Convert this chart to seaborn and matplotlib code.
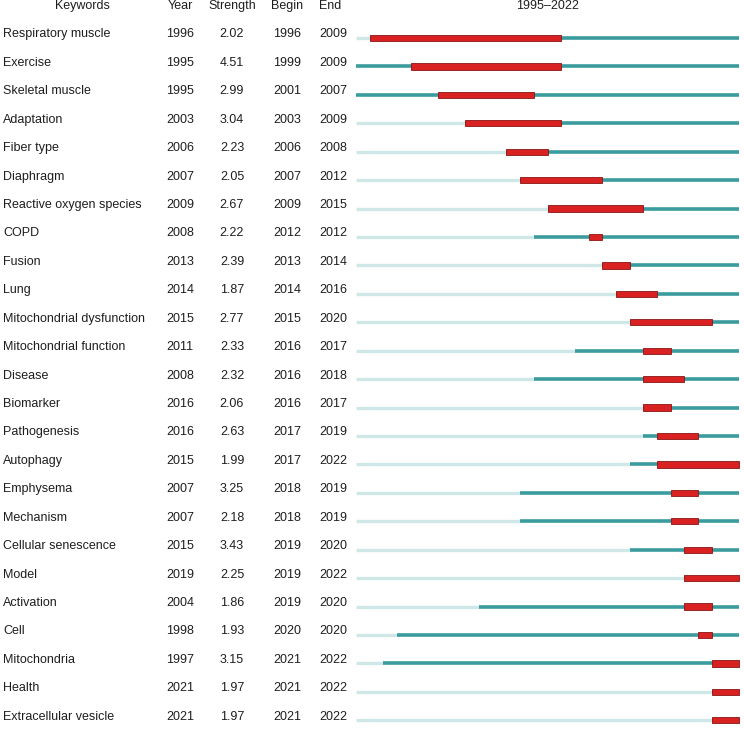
import matplotlib
matplotlib.use("Agg")
import matplotlib.pyplot as plt
import matplotlib.transforms as mtransforms
import seaborn as sns

keywords = ["Respiratory muscle", "Exercise", "Skeletal muscle", "Adaptation", "Fiber type",
            "Diaphragm", "Reactive oxygen species", "COPD", "Fusion", "Lung",
            "Mitochondrial dysfunction", "Mitochondrial function", "Disease", "Biomarker",
            "Pathogenesis", "Autophagy", "Emphysema", "Mechanism", "Cellular senescence",
            "Model", "Activation", "Cell", "Mitochondria", "Health", "Extracellular vesicle"]
years = [1996, 1995, 1995, 2003, 2006, 2007, 2009, 2008, 2013, 2014, 2015, 2011, 2008, 2016,
         2016, 2015, 2007, 2007, 2015, 2019, 2004, 1998, 1997, 2021, 2021]
strengths = [2.02, 4.51, 2.99, 3.04, 2.23, 2.05, 2.67, 2.22, 2.39, 1.87, 2.77, 2.33, 2.32, 2.06,
             2.63, 1.99, 3.25, 2.18, 3.43, 2.25, 1.86, 1.93, 3.15, 1.97, 1.97]
begins = [1996, 1999, 2001, 2003, 2006, 2007, 2009, 2012, 2013, 2014, 2015, 2016, 2016, 2016,
          2017, 2017, 2018, 2018, 2019, 2019, 2019, 2020, 2021, 2021, 2021]
ends = [2009, 2009, 2007, 2009, 2008, 2012, 2015, 2012, 2014, 2016, 2020, 2017, 2018, 2017,
        2019, 2022, 2019, 2019, 2020, 2022, 2020, 2020, 2022, 2022, 2022]
start_year, end_year = 1995, 2022
headers = ["Keywords", "Year", "Strength", "Begin", "End"]

sns.set_theme(style="white")
plt.rcParams['font.family'] = ['Liberation Sans', 'DejaVu Sans']

fig = plt.figure(figsize=(7.44, 7.30), dpi=100)
ax = fig.add_axes([0, 0, 1, 1])
px_per_year = 13.68
x0 = 356
ax.set_xlim(start_year - x0 / px_per_year, start_year + (744 - x0) / px_per_year)
row0, row_h = 38, 28.43
ax.set_ylim((730 - row0) / row_h, (0 - row0) / row_h)
ax.axis("off")

light = "#d0e7e7"
teal = "#3a9c9e"
red = "#d92121"
tc = "#1e1e1e"

for i, (y, b, e) in enumerate(zip(years, begins, ends)):
    if y > start_year:
        ax.hlines(i, start_year, y, color=light, lw=2.4, zorder=1)
    ax.hlines(i, y, end_year + 1, color=teal, lw=2.6, zorder=2)
ax.barh(list(range(len(keywords))), [e + 1 - b for b, e in zip(begins, ends)], left=begins,
        height=0.22, color=red, edgecolor="#8a1414", linewidth=0.6, zorder=3)

trans = mtransforms.blended_transform_factory(fig.transFigure, ax.transData)
col_x = [82 / 744, 180 / 744, 232 / 744, 287 / 744, 333 / 744]
fs = 9
tdy = -0.02
for h, cx in zip(headers, col_x):
    ax.text(cx if h != "End" else 330 / 744, -1 + tdy, h, transform=trans, ha="center",
            va="baseline", fontsize=fs, color=tc)
ax.text((start_year + end_year + 1) / 2, -1 + tdy, f"{start_year}\u2013{end_year}", ha="center",
        va="baseline", fontsize=fs, color=tc)

for i in range(len(keywords)):
    yy = i + tdy
    ax.text(3 / 744, yy, keywords[i], transform=trans, ha="left", va="baseline", fontsize=fs, color=tc)
    ax.text(col_x[1], yy, str(years[i]), transform=trans, ha="center", va="baseline", fontsize=fs, color=tc)
    ax.text(col_x[2], yy, f"{strengths[i]:.2f}", transform=trans, ha="center", va="baseline", fontsize=fs, color=tc)
    ax.text(col_x[3], yy, str(begins[i]), transform=trans, ha="center", va="baseline", fontsize=fs, color=tc)
    ax.text(col_x[4], yy, str(ends[i]), transform=trans, ha="center", va="baseline", fontsize=fs, color=tc)

fig.savefig("out.png", dpi=100, facecolor="white")
